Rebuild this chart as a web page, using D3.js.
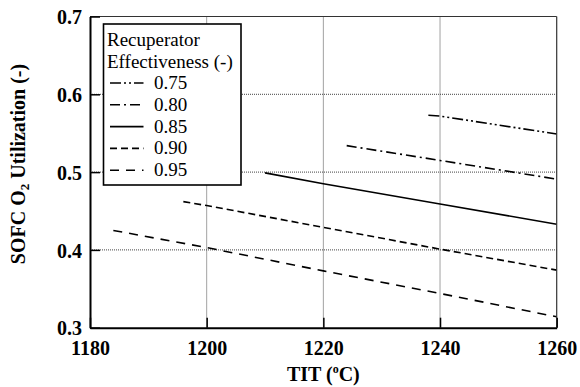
<!DOCTYPE html>
<html>
<head>
<meta charset="utf-8">
<script src="https://cdn.jsdelivr.net/npm/d3@7/dist/d3.min.js"></script>
<style>
  html, body { margin: 0; padding: 0; background: #fff; }
  svg { display: block; }
  text { font-family: "Liberation Serif", "Times New Roman", Times, serif; fill: #000; }
</style>
</head>
<body>
<svg id="chart" width="580" height="387"></svg>
<script>
// ---- Data ----
const seriesNames = ["0.75", "0.80", "0.85", "0.90", "0.95"];
const tit075 = [1238, 1240, 1260];
const u075   = [0.573, 0.572, 0.549];
const tit080 = [1224, 1240, 1260];
const u080   = [0.534, 0.515, 0.491];
const tit085 = [1210, 1220, 1240, 1260];
const u085   = [0.499, 0.485, 0.459, 0.433];
const tit090 = [1196, 1200, 1220, 1240, 1260];
const u090   = [0.462, 0.457, 0.429, 0.401, 0.374];
const tit095 = [1184, 1200, 1220, 1240, 1260];
const u095   = [0.425, 0.403, 0.373, 0.344, 0.314];
const xTicks = [1180, 1200, 1220, 1240, 1260];
const yTicks = [0.3, 0.4, 0.5, 0.6, 0.7];

const seriesX = [tit075, tit080, tit085, tit090, tit095];
const seriesY = [u075, u080, u085, u090, u095];
const dashes = ["11,3,2,3,2,3", "10,4,2,4", null, "7,4", "9,7"];

// ---- Layout ----
const svg = d3.select("#chart");
const L = 90, R = 556.7, T = 16.5, B = 327.7;
const x = d3.scaleLinear().domain([1180, 1260]).range([L, R]);
const y = d3.scaleLinear().domain([0.3, 0.7]).range([B, T]);
const FONT = '"Liberation Serif", "Times New Roman", Times, serif';

// grid
const grid = svg.append("g");
grid.selectAll("line.gx").data(xTicks.slice(1, -1)).join("line")
  .attr("x1", d => x(d)).attr("x2", d => x(d)).attr("y1", T).attr("y2", B)
  .attr("stroke", "#444").attr("stroke-width", 1).attr("stroke-dasharray", "1,1");
grid.selectAll("line.gy").data(yTicks.slice(1, -1)).join("line")
  .attr("x1", L).attr("x2", R).attr("y1", d => y(d)).attr("y2", d => y(d))
  .attr("stroke", "#444").attr("stroke-width", 1).attr("stroke-dasharray", "1,1");

// series lines
const line = d3.line().x(d => x(d[0])).y(d => y(d[1]));
seriesNames.forEach((name, i) => {
  const pts = seriesX[i].map((v, j) => [v, seriesY[i][j]]);
  svg.append("path").datum(pts).attr("d", line)
    .attr("fill", "none").attr("stroke", "#000").attr("stroke-width", 1.6)
    .attr("stroke-dasharray", dashes[i]);
});

// frame top/right
svg.append("line").attr("x1", L).attr("x2", R).attr("y1", T).attr("y2", T)
  .attr("stroke", "#333").attr("stroke-width", 1.2);
svg.append("line").attr("x1", R).attr("x2", R).attr("y1", T).attr("y2", B)
  .attr("stroke", "#333").attr("stroke-width", 1.2);

// axes
const xAxis = d3.axisBottom(x).tickValues(xTicks).tickFormat(d3.format("d"))
  .tickSizeInner(-10).tickSizeOuter(0).tickPadding(13);
const gx = svg.append("g").attr("transform", `translate(0,${B})`).call(xAxis);
const yAxis = d3.axisLeft(y).tickValues(yTicks).tickFormat(d3.format(".1f"))
  .tickSizeInner(-10).tickSizeOuter(0).tickPadding(8);
const gy = svg.append("g").attr("transform", `translate(${L},0)`).call(yAxis);
[gx, gy].forEach(g => {
  g.attr("font-family", null).attr("font-size", null);
  g.select(".domain").attr("stroke", "#000").attr("stroke-width", 2);
  g.selectAll(".tick line").attr("stroke", "#000").attr("stroke-width", 1.5);
  g.selectAll(".tick text").style("font-family", FONT)
    .style("font-weight", "bold").style("font-size", "20px").attr("fill", "#000");
});
gy.selectAll(".tick text").attr("dy", "0.36em");

// axis titles
const xt = svg.append("text").attr("x", (L + R) / 2).attr("y", 381)
  .attr("text-anchor", "middle").style("font-weight", "bold").style("font-size", "20px");
xt.append("tspan").text("TIT (");
xt.append("tspan").text("o").attr("dy", "-8").style("font-size", "12px");
xt.append("tspan").text("C)").attr("dy", "8");

const yt = svg.append("text").attr("transform", "rotate(-90)")
  .attr("x", -164).attr("y", 25)
  .attr("text-anchor", "middle").style("font-weight", "bold").style("font-size", "20px");
yt.append("tspan").text("SOFC O");
yt.append("tspan").text("2").attr("dy", "4").style("font-size", "13px");
yt.append("tspan").text(" Utilization (-)").attr("dy", "-4");

// legend
const lg = svg.append("g");
lg.append("rect").attr("x", 103.5).attr("y", 24).attr("width", 137.5).attr("height", 161)
  .attr("fill", "#fff").attr("stroke", "#000").attr("stroke-width", 1.6);
lg.append("text").attr("x", 107).attr("y", 46).style("font-size", "19px").text("Recuperator");
lg.append("text").attr("x", 107).attr("y", 67.5).style("font-size", "19px").text("Effectiveness (-)");
seriesNames.forEach((name, i) => {
  const by = 89 + i * 21.8;
  lg.append("line").attr("x1", 110).attr("x2", 143.5).attr("y1", by - 6).attr("y2", by - 6)
    .attr("stroke", "#000").attr("stroke-width", 1.6).attr("stroke-dasharray", dashes[i]);
  lg.append("text").attr("x", 154).attr("y", by).style("font-size", "19px").text(name);
});
</script>
</body>
</html>
